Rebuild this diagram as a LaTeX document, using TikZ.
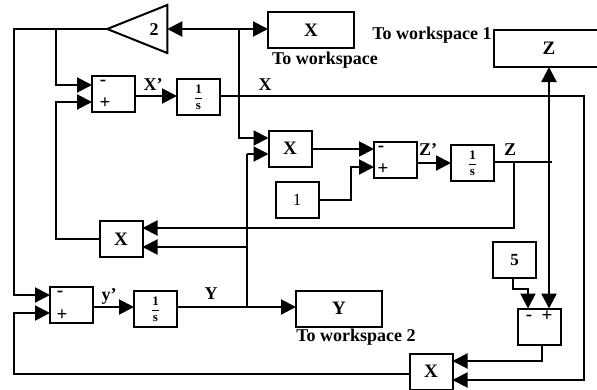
\documentclass[tikz,border=0pt]{standalone}
\usepackage{fontspec}
\setmainfont{Liberation Serif}
\usetikzlibrary{arrows.meta,calc,shapes.geometric}
\tikzset{
  blk/.style={draw,line width=2pt,outer sep=0pt,inner sep=0pt,font=\bfseries\fontsize{19}{19}\selectfont},
  b43/.style={blk,minimum width=43pt,minimum height=36pt},
  bwide/.style={blk,minimum width=86pt,minimum height=36pt},
  wire/.style={line width=2pt},
  tipped/.style={wire,-{Triangle[length=15pt,width=15pt]}},
  bothtips/.style={wire,{Triangle[length=15pt,width=15pt]}-{Triangle[length=15pt,width=15pt]}},
  heavywire/.style={line width=2.5pt},
  lab/.style={inner sep=0pt,font=\bfseries\fontsize{18}{18}\selectfont},
  sign/.style={inner sep=0pt,font=\bfseries\fontsize{19}{19}\selectfont},
  capt/.style={inner sep=0pt,font=\fontsize{18}{18}\selectfont\bfseries},
  fracbox/.style={blk,minimum width=43pt,minimum height=36pt,font=\bfseries\fontsize{13}{13}\selectfont},
}
\newcommand{\osfrac}{$\displaystyle\mathbf{\frac{1}{s}}$}
\begin{document}
\begin{tikzpicture}[x=1pt,y=-1pt]
\useasboundingbox (0,0) rectangle (597,389);
% blocks
\node[draw,line width=2pt,outer sep=0pt,inner sep=0pt,isosceles triangle,isosceles triangle stretches,shape border rotate=180,minimum width=48pt,minimum height=60pt] (gain) at (151,29) {};
\node[lab] (gainl) at (154,30) {2};
\node[b43,minimum width=86pt] (wsx) at (311,30) {X};
\node[blk,minimum width=110pt,minimum height=37pt] (wsz) at (549,48.5) {Z};
\node[b43] (sumx) at (113.5,94) {};
\node[fracbox] (intx) at (198.5,97) {\osfrac};
\node[b43] (multa) at (290,148.5) {X};
\node[b43] (sumz) at (395.5,159.5) {};
\node[b43] (one) at (297,199.5) {\fontsize{17}{17}\selectfont\mdseries 1};
\node[fracbox] (intz) at (472.5,163) {\osfrac};
\node[b43] (multb) at (121,239) {X};
\node[b43] (five) at (514.5,260) {\fontsize{17}{17}\selectfont 5};
\node[b43] (sumy) at (71.5,304.5) {};
\node[fracbox] (inty) at (155.5,309) {\osfrac};
\node[bwide] (wsy) at (339,308.5) {Y};
\node[b43] (sumr) at (539,326.5) {};
\node[b43] (multc) at (431,371.5) {X};
% signs
\node[sign] (sx1) at (103,83) {-};
\node[sign] (sx2) at (105,103) {+};
\node[sign] (sz1) at (381,149) {-};
\node[sign] (sz2) at (383,169) {+};
\node[sign] (sy1) at (60,294) {-};
\node[sign] (sy2) at (62,315) {+};
\node[sign] (sr1) at (529,318) {-};
\node[sign] (sr2) at (547,316) {+};
% captions and signal labels
\node[capt] (c1) at (325,60) {To workspace};
\node[capt] (c2) at (432,35) {To workspace 1};
\node[capt] (c3) at (356,337) {To workspace 2};
\node[lab] (l1) at (153,85) {X'};
\node[lab] (l2) at (265,85) {X};
\node[lab] (l3) at (428,150) {Z'};
\node[lab] (l4) at (510,150) {Z};
\node[lab] (l5) at (109,296) {y'};
\node[lab] (l6) at (211,294) {Y};
% junctions
\coordinate (j1) at (239,29);
\coordinate (j2) at (56,29);
\coordinate (j3) at (514,162);
\coordinate (j4) at (247,247);
\coordinate (j5) at (247,307);
\coordinate (zv) at (549,67);
% connectors
\draw[tipped] (j1) -- (gain.east);
\draw[tipped] (j1) -- (wsx.west|-j1);
\draw[tipped] (j1) |- ($(multa.west)+(0,-10.5)$);
\draw[tipped] (gain.apex) -| (14,295) -- ($(sumy.west)+(0,-9.5)$);
\draw[tipped] (j2) |- ($(sumx.west)+(0,-9)$);
\draw[tipped] (multb.west) -| (56,102) -- ($(sumx.west)+(0,8)$);
\draw[tipped] ($(sumx.east)+(0,2)$) -- ($(intx.west)+(0,-1)$);
\draw[tipped] ($(intx.east)+(0,-1)$) -| (584,380) -- ($(multc.east)+(0,8.5)$);
\draw[tipped] ($(multa.east)+(0,.5)$) -- ($(sumz.west)+(0,-10.5)$);
\draw[tipped] (one.east) -| (351,167) -- ($(sumz.west)+(0,7.5)$);
\draw[tipped] ($(sumz.east)+(0,3.5)$) -- ($(intz.west)+(0,0)$);
\draw[wire] ($(intz.east)+(0,-1)$) -- (552,162);
\draw[tipped] (j3) |- ($(multb.east)+(0,-11)$);
\draw[tipped] (j4) -- ($(multb.east)+(0,8)$);
\draw[wire] (j5) -- (247,154);
\draw[tipped] (247,154) -- ($(multa.west)+(0,5.5)$);
\draw[tipped] ($(sumy.east)+(0,2.5)$) -- ($(inty.west)+(0,-2)$);
\draw[tipped] ($(inty.east)+(0,-2)$) -- (wsy.west|-j5);
\draw[bothtips,heavywire] (zv) -- ($(sumr.north)+(10,0)$);
\draw[tipped] ($(five.south)+(-1.5,0)$) |- (528,289) -- ($(sumr.north)+(-11,0)$);
\draw[tipped] ($(sumr.south)+(3,0)$) |- ($(multc.east)+(0,-10.5)$);
\draw[tipped] ($(multc.west)+(0,2.5)$) -| (14,313) -- ($(sumy.west)+(0,8.5)$);
\end{tikzpicture}
\end{document}
